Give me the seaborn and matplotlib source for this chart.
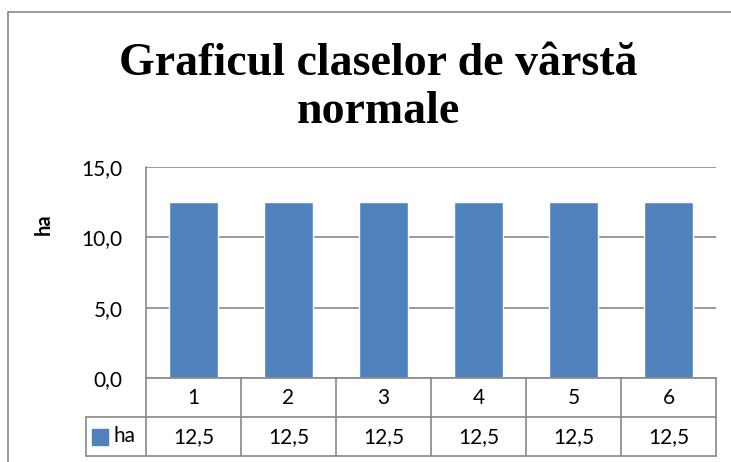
import seaborn as sns
import pandas as pd
import matplotlib.pyplot as plt
from matplotlib.patches import Rectangle
from matplotlib.ticker import FuncFormatter, MultipleLocator

# data
categories = ["1", "2", "3", "4", "5", "6"]
ha_values = [12.5, 12.5, 12.5, 12.5, 12.5, 12.5]
series_name = "ha"
title = "Graficul claselor de vârstă\nnormale"

sns.set_theme(style="white")
plt.rcParams['font.family'] = ['Lato', 'DejaVu Sans']
plt.rcParams['text.color'] = 'black'
plt.rcParams['axes.labelcolor'] = 'black'

bar_color = "#4F81BD"
line_color = "#888888"
fs = 15

W, H = 731, 462
fig = plt.figure(figsize=(W / 100, H / 100), dpi=100)
fig.patch.set_facecolor("white")

# outer chart frame (cut off on the right and bottom)
fig.patches.append(Rectangle((8 / W, -0.1), 2.0, (H - 12) / H + 0.1,
                             transform=fig.transFigure, fill=False,
                             edgecolor=line_color, lw=1.2))

# plot area
ax = fig.add_axes([146 / W, (H - 378) / H, 570 / W, 211 / H])
df = pd.DataFrame({"cat": categories, "val": ha_values})
sns.barplot(data=df, x="cat", y="val", color=bar_color, width=0.52,
            saturation=1, ax=ax)
ax.set_xlim(-0.5, len(categories) - 0.5)
ax.set_ylim(0, 15)
ax.yaxis.set_major_locator(MultipleLocator(5))
ax.yaxis.set_major_formatter(FuncFormatter(lambda v, p: f"{v:.1f}".replace(".", ",")))
ax.grid(axis="y", color=line_color, lw=1.2)
ax.set_axisbelow(True)
for s in ["top", "right", "bottom"]:
    ax.spines[s].set_visible(False)
ax.spines["left"].set_color(line_color)
ax.spines["left"].set_linewidth(1.2)
ax.tick_params(axis="y", length=0, pad=17, labelsize=fs, labelcolor="black")
ax.set_xticks([])
ax.set_xlabel("")
ax.set_ylabel("ha", fontsize=14.5, fontweight="bold", labelpad=20)
ax.yaxis.label.set_y(0.73)

fig.text(378 / W, (H - 88) / H, title, ha="center", va="center",
         family=["Liberation Serif", "DejaVu Serif"], fontweight="bold",
         fontsize=33, linespacing=1.2)

# data table under the plot area
n = len(categories)
legend_w = 60 / 95
tab = fig.add_axes([86 / W, (H - 456) / H, 630 / W, 78 / H])
tab.set_xlim(-0.5 - legend_w, n - 0.5)
tab.set_ylim(2, 0)
tab.axis("off")
lw = 1.2
tab.plot([-0.5, n - 0.5], [0, 0], color=line_color, lw=lw, clip_on=False)
tab.plot([-0.5 - legend_w, n - 0.5], [1, 1], color=line_color, lw=lw, clip_on=False)
tab.plot([-0.5 - legend_w, n - 0.5], [2, 2], color=line_color, lw=lw, clip_on=False)
tab.plot([-0.5 - legend_w] * 2, [1, 2], color=line_color, lw=lw, clip_on=False)
for i in range(n + 1):
    tab.plot([i - 0.5] * 2, [0, 2], color=line_color, lw=lw, clip_on=False)
for i, (c, v) in enumerate(zip(categories, ha_values)):
    tab.text(i, 0.52, c, ha="center", va="center", fontsize=fs)
    tab.text(i, 1.52, f"{v:.1f}".replace(".", ","), ha="center", va="center", fontsize=fs)
tab.scatter([-0.5 - legend_w + 0.15], [1.5], marker="s", s=120, color=bar_color, clip_on=False)
tab.text(-0.5 - legend_w + 0.29, 1.5, series_name, ha="left", va="center", fontsize=fs)

fig.savefig("out.png", dpi=100)
